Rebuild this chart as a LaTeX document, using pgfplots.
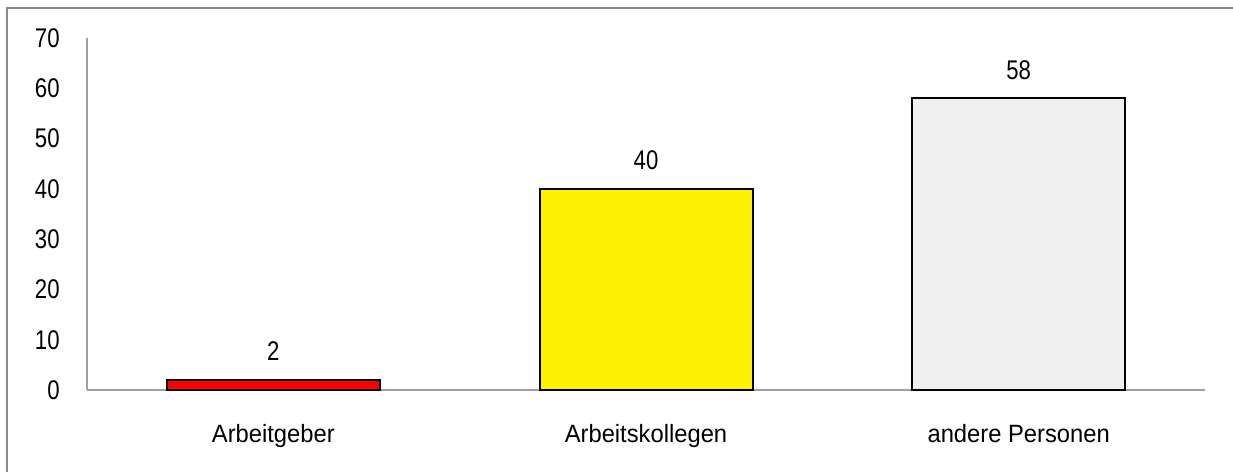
\documentclass[border=0pt]{standalone}
\usepackage{fontspec}
\setmainfont[FakeStretch=0.95]{Liberation Sans}
\newfontfamily\numfont[FakeStretch=0.82]{Liberation Sans}
\usepackage{pgfplots}
\pgfplotsset{compat=1.18}
\definecolor{axgray}{HTML}{A0A0A0}
\definecolor{framegray}{HTML}{888888}
\definecolor{lgray}{HTML}{F0F0F0}
\begin{document}
\begin{tikzpicture}
\begin{axis}[
  at={(43.5pt,41pt)}, anchor=south west,
  scale only axis, width=559pt, height=176pt,
  xmin=-0.5, xmax=2.5, ymin=0, ymax=70,
  axis x line=bottom, axis y line=left,
  axis line style={-, axgray, line width=0.8pt},
  xtick={0,1,2}, xticklabels={Arbeitgeber,Arbeitskollegen,andere Personen},
  ytick={0,10,...,70},
  major tick length=0pt,
  /pgf/number format/assume math mode=true,
  xticklabel style={font=\fontsize{12.5}{15}\selectfont, text=black, anchor=north, inner sep=0pt, yshift=-17pt},
  yticklabel style={font=\numfont\fontsize{13.5}{16}\selectfont, text=black, anchor=east, inner sep=0pt, xshift=-13.5pt},
  ybar, bar width=106.5pt, bar shift=0pt,
  nodes near coords,
  nodes near coords style={font=\numfont\fontsize{13.5}{16}\selectfont, text=black, anchor=south, inner sep=0pt, yshift=9pt, /pgf/number format/assume math mode=true},
]
\addplot[draw=black, line width=1pt, fill=red] coordinates {(0,2)};
\addplot[draw=black, line width=1pt, fill=yellow] coordinates {(1,40)};
\addplot[draw=black, line width=1pt, fill=lgray] coordinates {(2,58)};
\end{axis}
\draw[framegray, line width=1pt] (3.5pt,0pt) -- (3.5pt,232pt) -- (616.5pt,232pt);
\pgfresetboundingbox
\useasboundingbox (0pt,0pt) rectangle (616.5pt,236pt);
\end{tikzpicture}
\end{document}
